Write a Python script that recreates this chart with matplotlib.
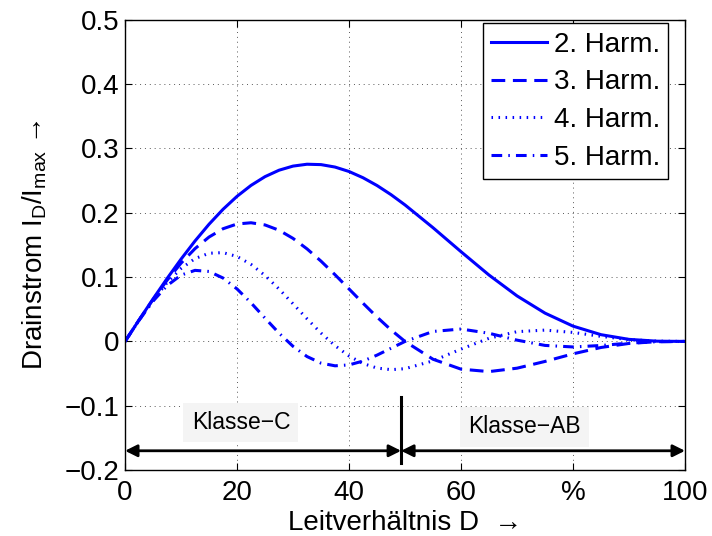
import matplotlib
matplotlib.use("Agg")
import matplotlib.pyplot as plt

plt.rcParams["font.family"] = ["Liberation Sans", "DejaVu Sans"]
plt.rcParams["mathtext.fontset"] = "custom"
plt.rcParams["mathtext.rm"] = "Liberation Sans"
plt.rcParams["mathtext.it"] = "Liberation Sans:italic"

# Leitverhaeltnis D in %
duty = [0, 2.5, 5, 7.5, 10, 12.5, 15, 17.5, 20, 22.5, 25, 27.5, 30, 32.5, 35,
        37.5, 40, 42.5, 45, 47.5, 50, 55, 60, 65, 70, 75, 80, 85, 90, 95, 100]

# Harmonische Drainstroeme I_D / I_max
harm2 = [0, 0.0333, 0.0660, 0.0977, 0.1279, 0.1562, 0.1822, 0.2054, 0.2256,
         0.2426, 0.2562, 0.2662, 0.2726, 0.2755, 0.2749, 0.2711, 0.2642, 0.2545,
         0.2424, 0.2282, 0.2122, 0.1768, 0.1395, 0.1032, 0.0708, 0.0440, 0.0238,
         0.0105, 0.0032, 0.0004, 0]
harm3 = [0, 0.0332, 0.0652, 0.0950, 0.1217, 0.1443, 0.1623, 0.1752, 0.1826,
         0.1845, 0.1811, 0.1729, 0.1602, 0.1439, 0.1248, 0.1037, 0.0816, 0.0594,
         0.0379, 0.0179, 0, -0.0277, -0.0431, -0.0469, -0.0416, -0.0311, -0.0193,
         -0.0094, -0.0031, -0.0004, 0]
harm4 = [0, 0.0330, 0.0640, 0.0913, 0.1133, 0.1288, 0.1371, 0.1381, 0.1321,
         0.1198, 0.1025, 0.0815, 0.0585, 0.0352, 0.0130, -0.0066, -0.0226, -0.0343,
         -0.0414, -0.0439, -0.0424, -0.0302, -0.0119, 0.0049, 0.0152, 0.0176, 0.0140,
         0.0079, 0.0028, 0.0004, 0]
harm5 = [0, 0.0328, 0.0626, 0.0867, 0.1031, 0.1105, 0.1088, 0.0986, 0.0816,
         0.0600, 0.0362, 0.0129, -0.0076, -0.0235, -0.0337, -0.0379, -0.0365, -0.0305,
         -0.0213, -0.0106, 0, 0.0155, 0.0193, 0.0127, 0.0020, -0.0062, -0.0086,
         -0.0063, -0.0026, -0.0004, 0]

series = [
    (harm2, "-", "2. Harm."),
    (harm3, (0, (4.5, 2.5)), "3. Harm."),
    (harm4, (0, (0.5, 1.8)), "4. Harm."),
    (harm5, (0, (3.5, 2.0, 0.5, 2.0)), "5. Harm."),
]

x_ticks = [0, 20, 40, 60, 80, 100]
x_labels = ["0", "20", "40", "60", "%", "100"]
y_ticks = [-0.2, -0.1, 0, 0.1, 0.2, 0.3, 0.4, 0.5]
y_labels = ["\u22120.2", "\u22120.1", "0", "0.1", "0.2", "0.3", "0.4", "0.5"]

fig = plt.figure(figsize=(7.12, 5.36), dpi=100)
ax = fig.add_axes([0.1756, 0.123, 0.7865, 0.840])

for values, style, name in series:
    ax.plot(duty, values, color="blue", linestyle=style, linewidth=2.2, label=name)

ax.set_xlim(0, 100)
ax.set_ylim(-0.2, 0.5)
ax.set_xticks(x_ticks)
ax.set_xticklabels(x_labels)
ax.set_yticks(y_ticks)
ax.set_yticklabels(y_labels)
ax.tick_params(direction="in", length=5, width=0.8, top=True, right=True,
               labelsize=20)
ax.tick_params(axis="x", pad=7)
ax.tick_params(axis="y", pad=4)
ax.grid(True, color="0.35", linestyle=(0, (1, 4)), linewidth=0.7)
for sp in ax.spines.values():
    sp.set_linewidth(1.0)

ax.set_xlabel("Leitverh\u00e4ltnis D  \u2192", fontsize=20, labelpad=3)
ax.set_ylabel("Drainstrom I$_\\mathrm{D}$/I$_\\mathrm{max}$ \u2192",
              fontsize=20, labelpad=11)

leg = ax.legend(loc="upper right", bbox_to_anchor=(0.97, 0.992),
                bbox_transform=ax.transAxes, borderaxespad=0,
                fontsize=20, frameon=True, fancybox=False,
                edgecolor="black", framealpha=1, handlelength=2.0,
                handletextpad=0.25, labelspacing=0.42, borderpad=0.3)
leg.get_frame().set_linewidth(1.0)

# Klassen-Bereiche
arrow_y = -0.17
split = 49.3
ax.annotate("", xy=(0, arrow_y), xytext=(split, arrow_y),
            arrowprops=dict(arrowstyle="<|-|>", color="black", lw=2,
                            mutation_scale=18, shrinkA=0, shrinkB=0))
ax.annotate("", xy=(split, arrow_y), xytext=(100, arrow_y),
            arrowprops=dict(arrowstyle="<|-|>", color="black", lw=2,
                            mutation_scale=18, shrinkA=0, shrinkB=0))
ax.plot([split, split], [-0.086, -0.189], color="black", linewidth=2.2)

box = dict(facecolor="#f4f4f4", edgecolor="none", pad=6)
ax.text(20.7, -0.126, "Klasse\u2212C", fontsize=16.5, ha="center", va="center", bbox=box)
ax.text(71.3, -0.133, "Klasse\u2212AB", fontsize=16.5, ha="center", va="center", bbox=box)

fig.savefig("out.png", dpi=100)
